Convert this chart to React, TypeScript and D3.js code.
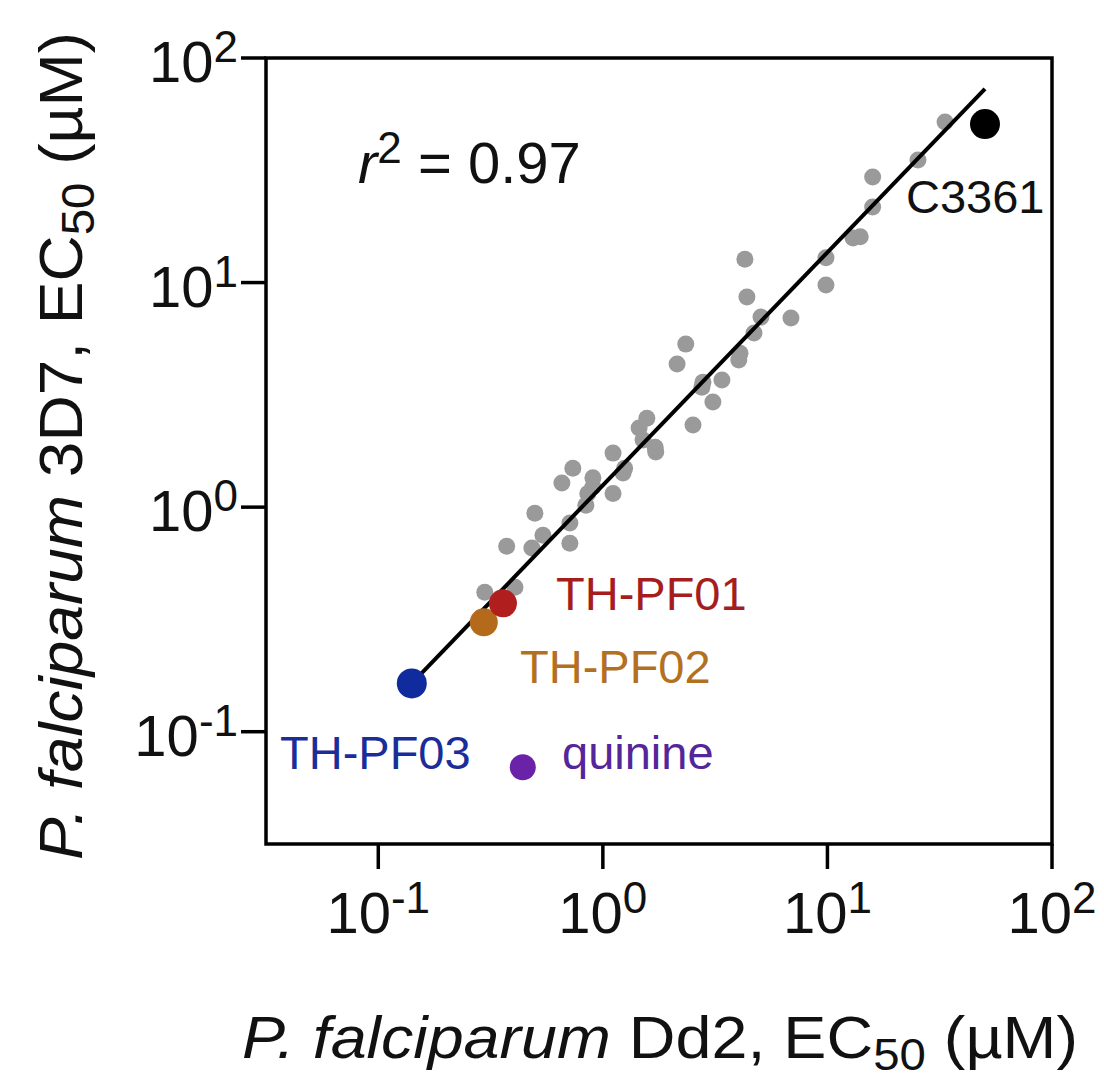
import React from "react";
import * as d3 from "d3";

// ---- Data (µM) ----
const grayDd2 = [
  33.4, 25.3, 15.9, 15.9, 13.0, 14.0, 9.85, 9.85, 4.29, 4.38, 5.06, 4.71, 6.88,
  2.34, 2.14, 4.08, 4.03, 2.79, 2.76, 3.39, 3.09, 2.52, 1.57, 1.45, 1.51, 1.71,
  1.72, 1.11, 1.25, 1.23, 1.11, 0.735, 0.657, 0.903, 0.903, 0.857, 0.84, 0.498,
  0.713, 0.541, 0.483, 0.713, 0.373, 0.298, 0.406,
];
const gray3D7 = [
  51.9, 35.1, 29.5, 21.7, 15.8, 16.0, 12.9, 9.75, 12.7, 8.62, 7.02, 5.96, 6.95,
  5.32, 4.34, 4.85, 4.52, 3.6, 3.42, 3.68, 2.94, 2.32, 2.49, 2.25, 1.99, 1.85,
  1.76, 1.74, 1.49, 1.42, 1.15, 1.49, 1.28, 1.35, 1.23, 1.15, 1.02, 0.94, 0.849,
  0.75, 0.657, 0.691, 0.67, 0.418, 0.44,
];

const namedLabels = ["TH-PF02", "TH-PF01", "TH-PF03", "quinine", "C3361"];
const namedDd2 = [0.295, 0.359, 0.141, 0.44, 50.3];
const named3D7 = [0.307, 0.373, 0.164, 0.0695, 50.8];
const namedColors = ["#b5691a", "#b01e1e", "#0f2b9e", "#6a22a8", "#000000"];
const namedTextColors = ["#b3701f", "#a51d1d", "#1a2d98", "#55269a", "#111111"];

const fitLineDd2 = [0.141, 50.3];
const fitLine3D7 = [0.164, 72.8];

const tickExponents = ["-1", "0", "1", "2"];
const tickValues = [0.1, 1, 10, 100];

const r2Text = "0.97";

export default function App() {
  const W = 1104;
  const H = 1082;
  const x = d3.scaleLog().domain([Math.pow(10, -1.5), 100]).range([266, 1052]);
  const y = d3.scaleLog().domain([Math.pow(10, -1.5), 100]).range([844, 58]);

  const line = d3
    .line<number>()
    .x((_, i) => x(fitLineDd2[i]))
    .y((_, i) => y(fitLine3D7[i]));

  const font = "'Liberation Sans', Arial, Helvetica, sans-serif";
  const labelPos = [
    { dx: 520, by: 683 },
    { dx: 556, by: 610 },
    { dx: 280, by: 769 },
    { dx: 562, by: 769 },
    { dx: 906, by: 213 },
  ];
  const radii = [14, 14, 15, 13, 15];
  const drawOrder = [0, 1, 2, 3, 4];

  return (
    <svg
      width={W}
      height={H}
      style={{ position: "absolute", left: 0, top: 0, background: "#fff" }}
      fontFamily={font}
    >
      <rect width={W} height={H} fill="#fff" />

      {/* gray points */}
      {grayDd2.map((v, i) => (
        <circle key={i} cx={x(v)} cy={y(gray3D7[i])} r={8.5} fill="#9a9a9a" />
      ))}

      {/* fit line */}
      <path d={line(fitLineDd2) || ""} stroke="#000" strokeWidth={4} fill="none" />

      {/* named points */}
      {drawOrder.map((i) => (
        <circle key={"n" + i} cx={x(namedDd2[i])} cy={y(named3D7[i])} r={radii[i]} fill={namedColors[i]} />
      ))}

      {/* named labels */}
      {namedLabels.map((t, i) => (
        <text key={"l" + i} x={labelPos[i].dx} y={labelPos[i].by} fontSize={47} fill={namedTextColors[i]}>
          {t}
        </text>
      ))}

      {/* r² */}
      <text x={358} y={183} fontSize={58} fill="#111">
        <tspan fontStyle="italic">r</tspan>
        <tspan fontSize={44} dy={-20}>2</tspan>
        <tspan dy={20}>{" = " + r2Text}</tspan>
      </text>

      {/* frame */}
      <rect
        x={x.range()[0]}
        y={y.range()[1]}
        width={x.range()[1] - x.range()[0]}
        height={y.range()[0] - y.range()[1]}
        fill="none"
        stroke="#000"
        strokeWidth={3.5}
      />

      {/* x ticks */}
      {tickValues.map((v, i) => (
        <g key={"xt" + i}>
          <line x1={x(v)} x2={x(v)} y1={y.range()[0]} y2={y.range()[0] + 25} stroke="#000" strokeWidth={3.5} />
          <text x={x(v)} y={933} fontSize={58} textAnchor="middle" fill="#111">
            10<tspan fontSize={44} dy={-20}>{tickExponents[i]}</tspan>
          </text>
        </g>
      ))}

      {/* y ticks */}
      {tickValues.map((v, i) => (
        <g key={"yt" + i}>
          <line x1={x.range()[0] - 25} x2={x.range()[0]} y1={y(v)} y2={y(v)} stroke="#000" strokeWidth={3.5} />
          <text x={238} y={y(v) + 24} fontSize={58} textAnchor="end" fill="#111">
            10<tspan fontSize={44} dy={-20}>{tickExponents[i]}</tspan>
          </text>
        </g>
      ))}

      {/* x title */}
      <text x={242} y={1058} fontSize={60} fill="#111" textLength={836} lengthAdjust="spacingAndGlyphs">
        <tspan fontStyle="italic">P. falciparum</tspan>
        <tspan>{" Dd2, EC"}</tspan>
        <tspan fontSize={44} dy={12}>50</tspan>
        <tspan dy={-12}>{" (µM)"}</tspan>
      </text>

      {/* y title */}
      <text
        transform="translate(82, 860) rotate(-90)"
        fontSize={62}
        fill="#111"
        textLength={828}
        lengthAdjust="spacingAndGlyphs"
      >
        <tspan fontStyle="italic">P. falciparum</tspan>
        <tspan>{" 3D7, EC"}</tspan>
        <tspan fontSize={46} dy={12}>50</tspan>
        <tspan dy={-12}>{" (µM)"}</tspan>
      </text>
    </svg>
  );
}
